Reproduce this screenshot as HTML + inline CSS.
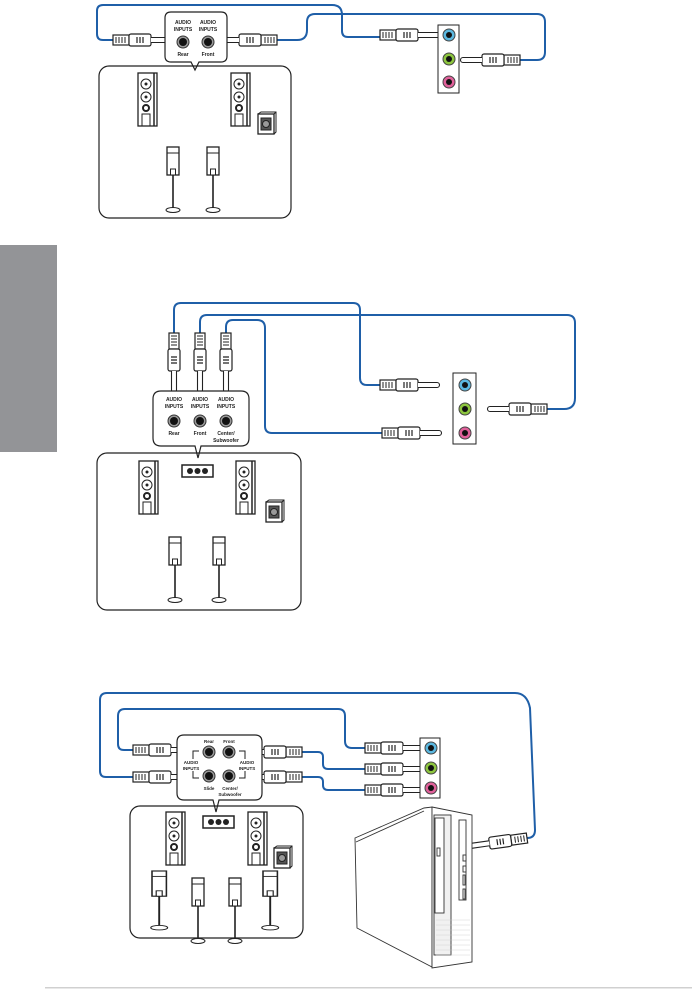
<!DOCTYPE html>
<html><head><meta charset="utf-8"><style>
html,body{margin:0;padding:0;background:#fff}
svg{display:block}
text{font-family:"Liberation Sans",sans-serif;font-weight:bold;fill:#222;text-anchor:middle}
</style></head><body>
<svg width="692" height="991" viewBox="0 0 692 991" xmlns="http://www.w3.org/2000/svg">
<defs>
<!-- plug pointing right, origin at grip end, length 60 -->
<g id="pr">
<rect x="0" y="-5" width="16" height="10" fill="#fff" stroke="#222" stroke-width="1.2"/>
<path d="M3-3v6M6-3v6M9-3v6M12-3v6" stroke="#222" stroke-width="1"/>
<rect x="16" y="-6" width="22" height="12" rx="2" fill="#fff" stroke="#222" stroke-width="1.2"/>
<path d="M24-3v6M27-3v6M30-3v6" stroke="#222" stroke-width="1.2"/>
<path d="M38-2.5h19a2.5 2.5 0 0 1 0 5h-19" fill="#fff" stroke="#222" stroke-width="1.1"/>
</g>
<g id="pl"><use href="#pr" transform="scale(-1,1)"/></g>
<g id="pd"><use href="#pr" transform="rotate(90)"/></g>
<g id="tower">
<rect x="0" y="0" width="19" height="53" fill="#fff" stroke="#222" stroke-width="1.3"/>
<path d="M16 0v53" stroke="#222" stroke-width="1.5"/>
<circle cx="8" cy="11" r="5" fill="none" stroke="#222"/><circle cx="8" cy="11" r="1.5" fill="#222"/>
<circle cx="8" cy="24" r="5" fill="none" stroke="#222"/><circle cx="8" cy="24" r="1.5" fill="#222"/>
<circle cx="8" cy="35" r="3" fill="none" stroke="#222" stroke-width="2"/>
<rect x="4" y="41" width="8" height="12" fill="none" stroke="#222"/>
</g>
<g id="sub">
<rect x="0" y="2" width="16" height="20" fill="#fff" stroke="#222" stroke-width="1.3"/>
<path d="M0 2l3-2h15v20l-2 2M16 2l2-2" fill="none" stroke="#222"/>
<rect x="3" y="6" width="10" height="12" fill="#555" stroke="#222"/><circle cx="8" cy="12" r="3.5" fill="#999" stroke="#222"/>
</g>
<g id="stand">
<rect x="0" y="0" width="12" height="28" fill="#fff" stroke="#222" stroke-width="1.3"/>
<path d="M0 6h12" stroke="#222"/><rect x="3.5" y="22" width="5" height="6" fill="#fff" stroke="#222"/>
<path d="M6 28v34" stroke="#222" stroke-width="1.6"/>
<ellipse cx="6" cy="63" rx="7" ry="2.5" fill="#fff" stroke="#222"/>
</g>
<g id="center"><rect x="0" y="0" width="31" height="12" fill="#fff" stroke="#222" stroke-width="1.5"/>
<circle cx="8" cy="6" r="3" fill="#222"/><circle cx="15.5" cy="6" r="3" fill="#222"/><circle cx="23" cy="6" r="3" fill="#222"/></g>
<g id="jack"><circle r="6" fill="#999" stroke="#333"/><circle r="4" fill="#111"/></g>
</defs>

<rect x="0" y="245" width="57" height="207" fill="#939497"/>
<rect x="45" y="987" width="647" height="1.5" fill="#d0d0d0"/>

<g fill="none" stroke="#1f5fa8" stroke-width="2">
<!-- section 1 -->
<path d="M113 40H103q-6 0-6-6V11q0-6 6-6H332q10 0 10 10V31q0 6 6 6H380"/>
<path d="M277 40H297q10 0 10-10V22q0-8 8-8H537q8 0 8 8V52q0 8-8 8H520"/>
<!-- section 2 -->
<path d="M174 333V310q0-7 7-7H353q7 0 7 7V378q0 7 7 7H380"/>
<path d="M200 333V322q0-7 7-7H567q8 0 8 8V398q0 11-11 11H547"/>
<path d="M226 333V327q0-7 7-7H257q8 0 8 8V426q0 7 7 7H382"/>
<!-- section 3 -->
<path d="M133 777H106q-6 0-6-6V700q0-7 7-7H515q12 0 15 15L535 830q0 8-8 8H520"/>
<path d="M133 750H124q-6 0-6-6V716q0-7 7-7H338q7 0 7 7V741q0 7 7 7H365"/>
<path d="M302 752H318q5 0 5 5V764q0 5 5 5H365"/>
<path d="M302 777H318q5 0 5 5V785q0 5 5 5H365"/>
</g>

<!-- SECTION 1 -->
<use href="#pr" x="113" y="40"/>
<use href="#pl" x="277" y="40"/>
<use href="#pr" x="380" y="35"/>
<use href="#pl" x="520" y="60"/>
<path d="M171 12H221q6 0 6 6V56q0 6-6 6H199l-4 8-4-8H171q-6 0-6-6V18q0-6 6-6z" fill="#fff" stroke="#222" stroke-width="1.2"/>
<g font-size="5"><text x="183" y="24">AUDIO</text><text x="183" y="31">INPUTS</text><text x="208" y="24">AUDIO</text><text x="208" y="31">INPUTS</text><text x="183" y="56">Rear</text><text x="208" y="56">Front</text></g>
<use href="#jack" x="183" y="42"/><use href="#jack" x="208" y="42"/>
<rect x="438" y="25" width="21" height="68" fill="#fff" stroke="#222"/>
<circle cx="449" cy="35" r="6" fill="#5bb8e0" stroke="#444"/><circle cx="449" cy="35" r="3" fill="#111"/>
<circle cx="449" cy="59" r="6" fill="#8dc63f" stroke="#444"/><circle cx="449" cy="59" r="3" fill="#111"/>
<circle cx="449" cy="82" r="6" fill="#e0609a" stroke="#444"/><circle cx="449" cy="82" r="3" fill="#111"/>
<rect x="99" y="66" width="192" height="152" rx="10" fill="none" stroke="#222" stroke-width="1.2"/>
<use href="#tower" x="138" y="73"/><use href="#tower" x="231" y="73"/>
<use href="#sub" x="258" y="112"/>
<use href="#stand" x="167" y="147"/><use href="#stand" x="207" y="147"/>

<!-- SECTION 2 -->
<use href="#pd" x="174" y="333"/><use href="#pd" x="200" y="333"/><use href="#pd" x="226" y="333"/>
<use href="#pr" x="380" y="385"/>
<use href="#pl" x="547" y="409"/>
<use href="#pr" x="382" y="433"/>
<path d="M161 391H241q8 0 8 8V438q0 8-8 8H201l-3 12-3-12H161q-8 0-8-8V399q0-8 8-8z" fill="#fff" stroke="#222" stroke-width="1.2"/>
<g font-size="5"><text x="174" y="401">AUDIO</text><text x="174" y="408">INPUTS</text><text x="200" y="401">AUDIO</text><text x="200" y="408">INPUTS</text><text x="226" y="401">AUDIO</text><text x="226" y="408">INPUTS</text>
<text x="174" y="435">Rear</text><text x="200" y="435">Front</text><text x="226" y="435">Center/</text><text x="226" y="442">Subwoofer</text></g>
<use href="#jack" x="174" y="421"/><use href="#jack" x="200" y="421"/><use href="#jack" x="226" y="421"/>
<rect x="453" y="373" width="23" height="71" fill="#fff" stroke="#222"/>
<circle cx="465" cy="385" r="6" fill="#5bb8e0" stroke="#444"/><circle cx="465" cy="385" r="3" fill="#111"/>
<circle cx="465" cy="409" r="6" fill="#8dc63f" stroke="#444"/><circle cx="465" cy="409" r="3" fill="#111"/>
<circle cx="465" cy="433" r="6" fill="#e0609a" stroke="#444"/><circle cx="465" cy="433" r="3" fill="#111"/>
<rect x="97" y="453" width="204" height="157" rx="10" fill="none" stroke="#222" stroke-width="1.2"/>
<use href="#tower" x="139" y="461"/><use href="#tower" x="236" y="461"/>
<use href="#center" x="182" y="465"/>
<use href="#sub" x="266" y="500"/>
<use href="#stand" x="169" y="537"/><use href="#stand" x="213" y="537"/>

<!-- SECTION 3 -->
<use href="#pr" x="133" y="750"/><use href="#pr" x="133" y="777"/>
<use href="#pl" x="302" y="752"/><use href="#pl" x="302" y="777"/>
<use href="#pr" x="365" y="748"/><use href="#pr" x="365" y="769"/><use href="#pr" x="365" y="790"/>
<use href="#pl" x="527" y="838" transform="rotate(-8 527 838)"/>
<path d="M184 735H255q7 0 7 7V793q0 7-7 7H219l-3 12-3-12H184q-7 0-7-7V742q0-7 7-7z" fill="#fff" stroke="#222" stroke-width="1.2"/>
<path d="M199 751h-6v8M193 771v7h6M239 751h6v8M245 771v7h-6" fill="none" stroke="#222"/>
<g font-size="4.5"><text x="209" y="743">Rear</text><text x="229" y="743">Front</text><text x="191" y="764">AUDIO</text><text x="191" y="770">INPUTS</text><text x="247" y="764">AUDIO</text><text x="247" y="770">INPUTS</text>
<text x="209" y="790">Slide</text><text x="230" y="790">Center/</text><text x="230" y="796">Subwoofer</text></g>
<use href="#jack" x="209" y="752"/><use href="#jack" x="229" y="752"/><use href="#jack" x="209" y="776"/><use href="#jack" x="229" y="776"/>
<rect x="420" y="738" width="20" height="60" fill="#fff" stroke="#222"/>
<circle cx="431" cy="748" r="6" fill="#5bb8e0" stroke="#444"/><circle cx="431" cy="748" r="3" fill="#111"/>
<circle cx="431" cy="768" r="6" fill="#8dc63f" stroke="#444"/><circle cx="431" cy="768" r="3" fill="#111"/>
<circle cx="431" cy="788" r="6" fill="#e0609a" stroke="#444"/><circle cx="431" cy="788" r="3" fill="#111"/>
<rect x="130" y="806" width="173" height="132" rx="10" fill="none" stroke="#222" stroke-width="1.2"/>
<use href="#tower" x="166" y="812"/><use href="#tower" x="248" y="812"/>
<use href="#center" x="203" y="816"/>
<use href="#sub" x="274" y="846"/>
<use href="#stand" x="152" y="871" transform="translate(152 871) scale(1.2 0.9) translate(-152 -871)"/>
<use href="#stand" x="192" y="878"/><use href="#stand" x="229" y="878"/>
<use href="#stand" x="263" y="871" transform="translate(263 871) scale(1.2 0.9) translate(-263 -871)"/>
<!-- computer -->
<g fill="#fff" stroke="#333" stroke-width="0.9">
<path d="M355 838L424 808L432 807L432 967L357 928Z"/>
<path d="M432 807L472 815L472 962L432 968Z"/>
<path d="M356 842L424 811"/>
<rect x="434" y="815" width="17" height="140" fill="#f1f1f1"/>
<rect x="435" y="818" width="9" height="95"/>
<rect x="459" y="820" width="7" height="80"/>
<rect x="437" y="848" width="3" height="8"/>
<rect x="463" y="855" width="3" height="6"/><rect x="463" y="866" width="3" height="6"/>
<rect x="463" y="875" width="2" height="10"/><rect x="463" y="889" width="2" height="10"/>
</g>
<g stroke="#ccc" stroke-width="0.4">
<path d="M436 920h34M436 925h34M436 930h34M436 935h34M436 940h34M436 945h34M436 950h34M436 955h34"/>
</g>
</svg>
</body></html>
